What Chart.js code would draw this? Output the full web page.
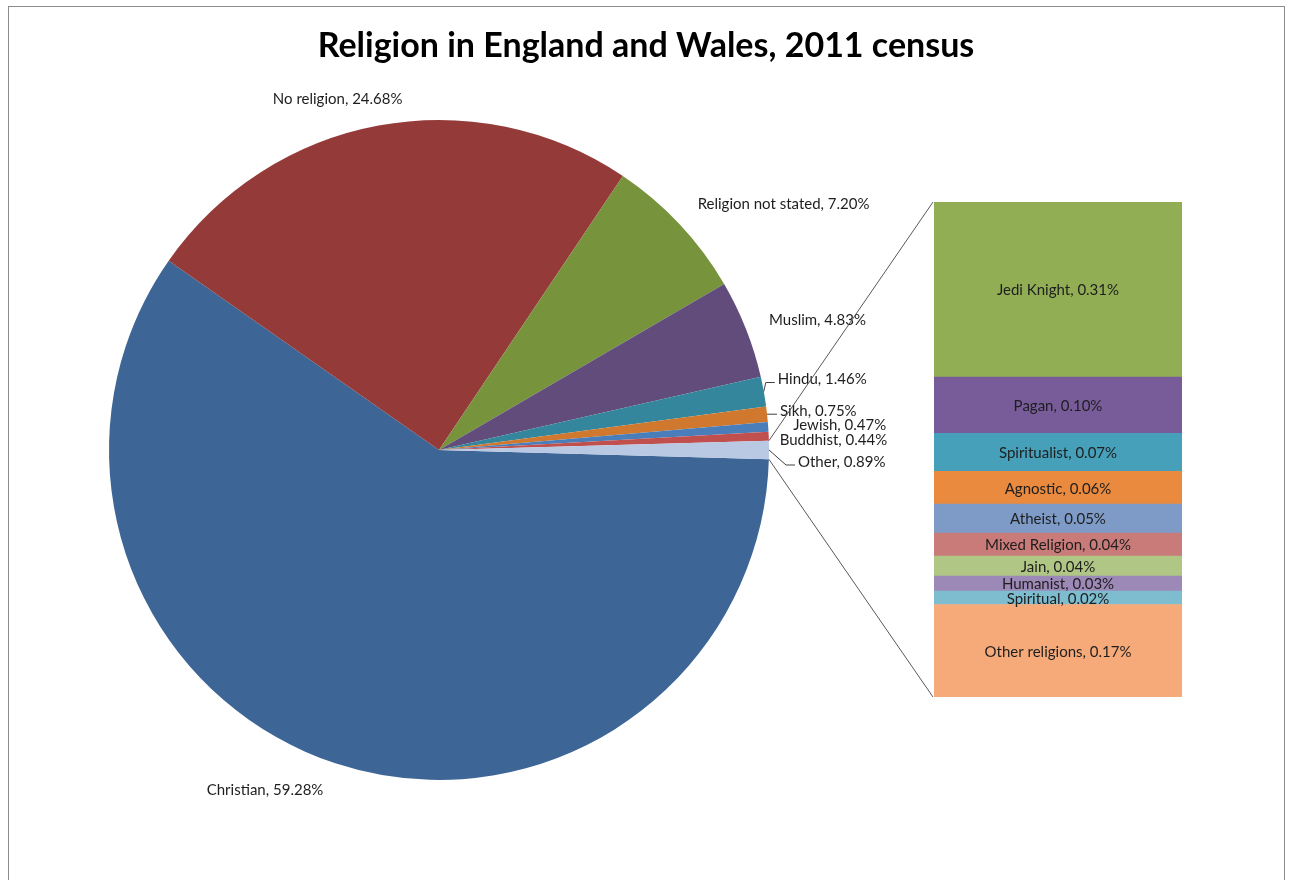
<!DOCTYPE html>
<html>
<head>
<meta charset="utf-8">
<script src="https://cdn.jsdelivr.net/npm/chart.js@4.4.1/dist/chart.umd.min.js"></script>
<style>
  html, body { margin: 0; padding: 0; background: #ffffff; }
  #stage { position: relative; width: 1290px; height: 880px; overflow: hidden; }
  #frame { position: absolute; left: 8px; top: 6px; width: 1277px; height: 900px; border: 1px solid #8c8c8c; box-sizing: border-box; }
  #pieCanvas { position: absolute; left: 0; top: 0; }
  #barCanvas { position: absolute; left: 934px; top: 202px; }
</style>
</head>
<body>
<div id="stage">
  <div id="frame"></div>
  <canvas id="pieCanvas" width="1290" height="880"></canvas>
  <canvas id="barCanvas" width="248" height="495"></canvas>
</div>
<script>
// ---------------- DATA ----------------
const chartTitle = 'Religion in England and Wales, 2011 census';

const pieLabels = ['Christian', 'No religion', 'Religion not stated', 'Muslim', 'Hindu', 'Sikh', 'Jewish', 'Buddhist', 'Other'];
const pieValues = [59.28, 24.68, 7.20, 4.83, 1.46, 0.75, 0.47, 0.44, 0.89];
const pieColors = ['#3d6696', '#943b3a', '#77933c', '#614c7b', '#33869b', '#d0782e', '#4a7ebb', '#c0504d', '#b9c9e3'];

const barLabels = ['Jedi Knight', 'Pagan', 'Spiritualist', 'Agnostic', 'Atheist', 'Mixed Religion', 'Jain', 'Humanist', 'Spiritual', 'Other religions'];
const barValues = [0.314, 0.101, 0.068, 0.059, 0.052, 0.041, 0.036, 0.027, 0.024, 0.166];
const barShown  = ['0.31%', '0.10%', '0.07%', '0.06%', '0.05%', '0.04%', '0.04%', '0.03%', '0.02%', '0.17%'];
const barColors = ['#91ae55', '#775c99', '#46a0b9', '#e98a3e', '#7e9bc8', '#c97b79', '#afc685', '#9d89b7', '#7dbdcf', '#f6aa7a'];

// ---------------- LAYOUT (label placement relative to slice outer midpoint) ----------------
const FONT = 'Lato, "Open Sans", sans-serif';
const labelLayout = [
  { dx: -12, dy: 27, align: 'right' },   // Christian
  { dx: 24,  dy: -26, align: 'right' },  // No religion
  { dx: 18,  dy: -20, align: 'left' },   // Religion not stated
  { dx: 23,  dy: -9,  align: 'left' },   // Muslim
  { dx: 14,  dy: -12, align: 'left', leader: true },  // Hindu
  { dx: 13,  dy: -3,  align: 'left', leader: true },  // Sikh
  { dx: 25,  dy: -2,  align: 'left' },   // Jewish
  { dx: 11,  dy: 4,   align: 'left' },   // Buddhist
  { dx: 29,  dy: 12,  align: 'left', leader: true }   // Other
];

const fmtPct = v => v.toFixed(2) + '%';
const otherShare = pieValues[pieValues.length - 1] / pieValues.reduce((a, b) => a + b, 0);

// ---------------- BAR (breakdown of "Other") ----------------
const barTotal = barValues.reduce((a, b) => a + b, 0);
const barOrder = barValues.map((_, i) => i).reverse(); // bottom-first stacking
const barChart = new Chart(document.getElementById('barCanvas'), {
  type: 'bar',
  data: {
    labels: ['Other'],
    datasets: barOrder.map(i => ({
      label: barLabels[i],
      data: [barValues[i]],
      backgroundColor: barColors[i],
      borderWidth: 0,
      barPercentage: 1,
      categoryPercentage: 1,
      shown: barShown[i]
    }))
  },
  options: {
    responsive: false,
    animation: false,
    devicePixelRatio: 1,
    layout: { padding: 0 },
    plugins: { legend: { display: false }, tooltip: { enabled: false }, title: { display: false } },
    scales: {
      x: { stacked: true, display: false },
      y: { stacked: true, display: false, min: 0, max: barTotal }
    }
  },
  plugins: [{
    id: 'barText',
    afterDatasetsDraw(chart) {
      const ctx = chart.ctx;
      ctx.save();
      ctx.font = '15px ' + FONT;
      ctx.fillStyle = '#1e1e1e';
      ctx.textAlign = 'center';
      ctx.textBaseline = 'middle';
      chart.data.datasets.forEach((ds, di) => {
        const el = chart.getDatasetMeta(di).data[0];
        ctx.fillText(ds.label + ', ' + ds.shown, el.x, (el.y + el.base) / 2 + 1);
      });
      ctx.restore();
    }
  }]
});

// ---------------- PIE ----------------
const cx = 439, cy = 450, R = 330;
const pieChart = new Chart(document.getElementById('pieCanvas'), {
  type: 'pie',
  data: {
    labels: pieLabels,
    datasets: [{
      data: pieValues,
      backgroundColor: pieColors,
      borderWidth: 0
    }]
  },
  options: {
    responsive: false,
    animation: false,
    devicePixelRatio: 1,
    rotation: 90 + otherShare * 360 / 2,
    layout: { padding: { left: cx - R, top: cy - R, right: 1290 - (cx + R), bottom: 880 - (cy + R) } },
    plugins: { legend: { display: false }, tooltip: { enabled: false }, title: { display: false } }
  },
  plugins: [{
    id: 'pieDecor',
    afterDraw(chart) {
      const ctx = chart.ctx;
      const arcs = chart.getDatasetMeta(0).data;
      ctx.save();
      // title
      ctx.font = 'bold 34px ' + FONT;
      ctx.fillStyle = '#000000';
      ctx.textAlign = 'center';
      ctx.textBaseline = 'middle';
      ctx.fillText(chartTitle, 646, 46);

      // labels
      ctx.font = '15px ' + FONT;
      ctx.textBaseline = 'middle';
      arcs.forEach((a, i) => {
        const mid = (a.startAngle + a.endAngle) / 2;
        const ox = a.x + a.outerRadius * Math.cos(mid);
        const oy = a.y + a.outerRadius * Math.sin(mid);
        const L = labelLayout[i];
        const tx = ox + L.dx, ty = oy + L.dy;
        ctx.fillStyle = '#1e1e1e';
        ctx.textAlign = L.align;
        ctx.fillText(pieLabels[i] + ', ' + fmtPct(pieValues[i]), tx, ty);
        if (L.leader) {
          ctx.strokeStyle = '#404040';
          ctx.lineWidth = 1;
          ctx.beginPath();
          ctx.moveTo(ox, oy);
          ctx.lineTo(tx - 12, ty + 3);
          ctx.lineTo(tx - 3, ty + 3);
          ctx.stroke();
        }
      });

      // connectors from "Other" slice to the breakdown bar
      const other = arcs[arcs.length - 1];
      const bArea = barChart.chartArea;
      const bx = 934 + bArea.left, byTop = 202 + bArea.top, byBot = 202 + bArea.bottom;
      const p1 = [other.x + other.outerRadius * Math.cos(other.startAngle), other.y + other.outerRadius * Math.sin(other.startAngle)];
      const p2 = [other.x + other.outerRadius * Math.cos(other.endAngle), other.y + other.outerRadius * Math.sin(other.endAngle)];
      ctx.strokeStyle = '#595959';
      ctx.lineWidth = 1;
      ctx.beginPath();
      ctx.moveTo(p1[0], p1[1]); ctx.lineTo(bx - 1, byTop);
      ctx.moveTo(p2[0], p2[1]); ctx.lineTo(bx - 1, byBot);
      ctx.stroke();
      ctx.restore();
    }
  }]
});
</script>
</body>
</html>
